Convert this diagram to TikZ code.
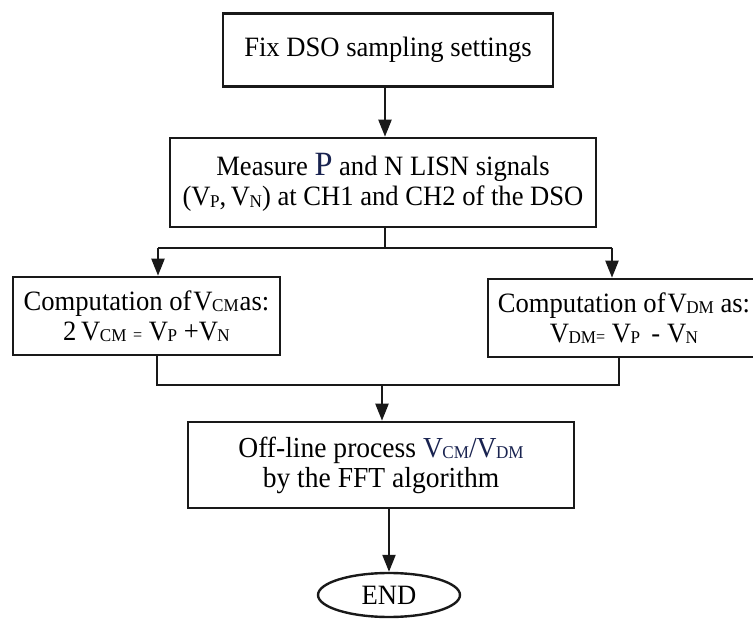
\documentclass[tikz,border=0pt]{standalone}
\usepackage{fontspec}
\setmainfont[FakeStretch=0.95]{Liberation Serif}
\usetikzlibrary{arrows.meta,shapes.geometric}
\definecolor{navyv}{RGB}{25,35,80}
\newcommand\subsc[1]{\raisebox{-1.5pt}{\fontsize{18}{18}\selectfont #1}}
\newcommand\Vx[1]{V\kern-0.5pt\subsc{#1}}
\begin{document}
\begin{tikzpicture}[x=1pt,y=-1pt,
  box/.style={draw=black!90,line width=2.6pt,fill=white,inner sep=0pt,align=center,
    font=\fontsize{28}{30}\selectfont},
  endnode/.style={draw=black!90,line width=2.4pt,ellipse,inner sep=0pt,
    minimum width=142pt,minimum height=44pt,font=\fontsize{28}{30}\selectfont},
  conn/.style={draw=black!90,line width=2.2pt},
  arr/.style={conn,-{Triangle[length=17pt,width=13pt]}}]
\useasboundingbox (0,0) rectangle (753,620);
\node[box,minimum width=330pt,minimum height=73pt] (b1) at (388,50) {Fix DSO sampling settings};
\node[box,minimum width=426pt,minimum height=89pt] (b2) at (383,182.5)
  {Measure {\fontsize{34}{30}\selectfont\color{navyv}P} and N LISN signals\\
   (\Vx{P},\,\Vx{N}) at CH1 and CH2 of the DSO};
\node[box,minimum width=267pt,minimum height=78pt] (bl) at (146.5,316)
  {Computation of\kern2pt\Vx{CM}\kern1pt as:\\
   2\,\Vx{CM} {\fontsize{17}{17}\selectfont=} \Vx{P} +\Vx{N}};
\node[box,minimum width=272pt,minimum height=78pt] (br) at (624,318)
  {Computation of\kern2pt\Vx{DM} as:\\
   \Vx{DM}{\fontsize{17}{17}\selectfont=} \Vx{P}\, - \Vx{N}};
\node[box,minimum width=386pt,minimum height=86pt,font=\fontsize{29}{30}\selectfont] (b4) at (381,465)
  {Off-line process {\color{navyv}\Vx{CM}/\Vx{DM}}\\
   by the FFT algorithm};
\node[endnode] (e) at (389,595) {END};
\coordinate (s) at (385,248);
\coordinate (sl) at (158,248);
\coordinate (sr) at (612,248);
\coordinate (ml) at (157,385);
\coordinate (mr) at (619,385);
\coordinate (m) at (382,385);
\draw[arr] (b1.south -| s) -- (b2.north -| s);
\draw[conn] (b2.south -| s) -- (s);
\draw[conn] (sl) -- (sr);
\draw[arr] (sl) -- (bl.north -| sl);
\draw[arr] (sr) -- (br.north -| sr);
\draw[conn] (bl.south -| ml) -- (ml) -- (mr) -- (br.south -| mr);
\draw[arr] (m) -- (b4.north -| m);
\draw[arr] (b4.south -| e) -- (e.north);
\end{tikzpicture}
\end{document}
